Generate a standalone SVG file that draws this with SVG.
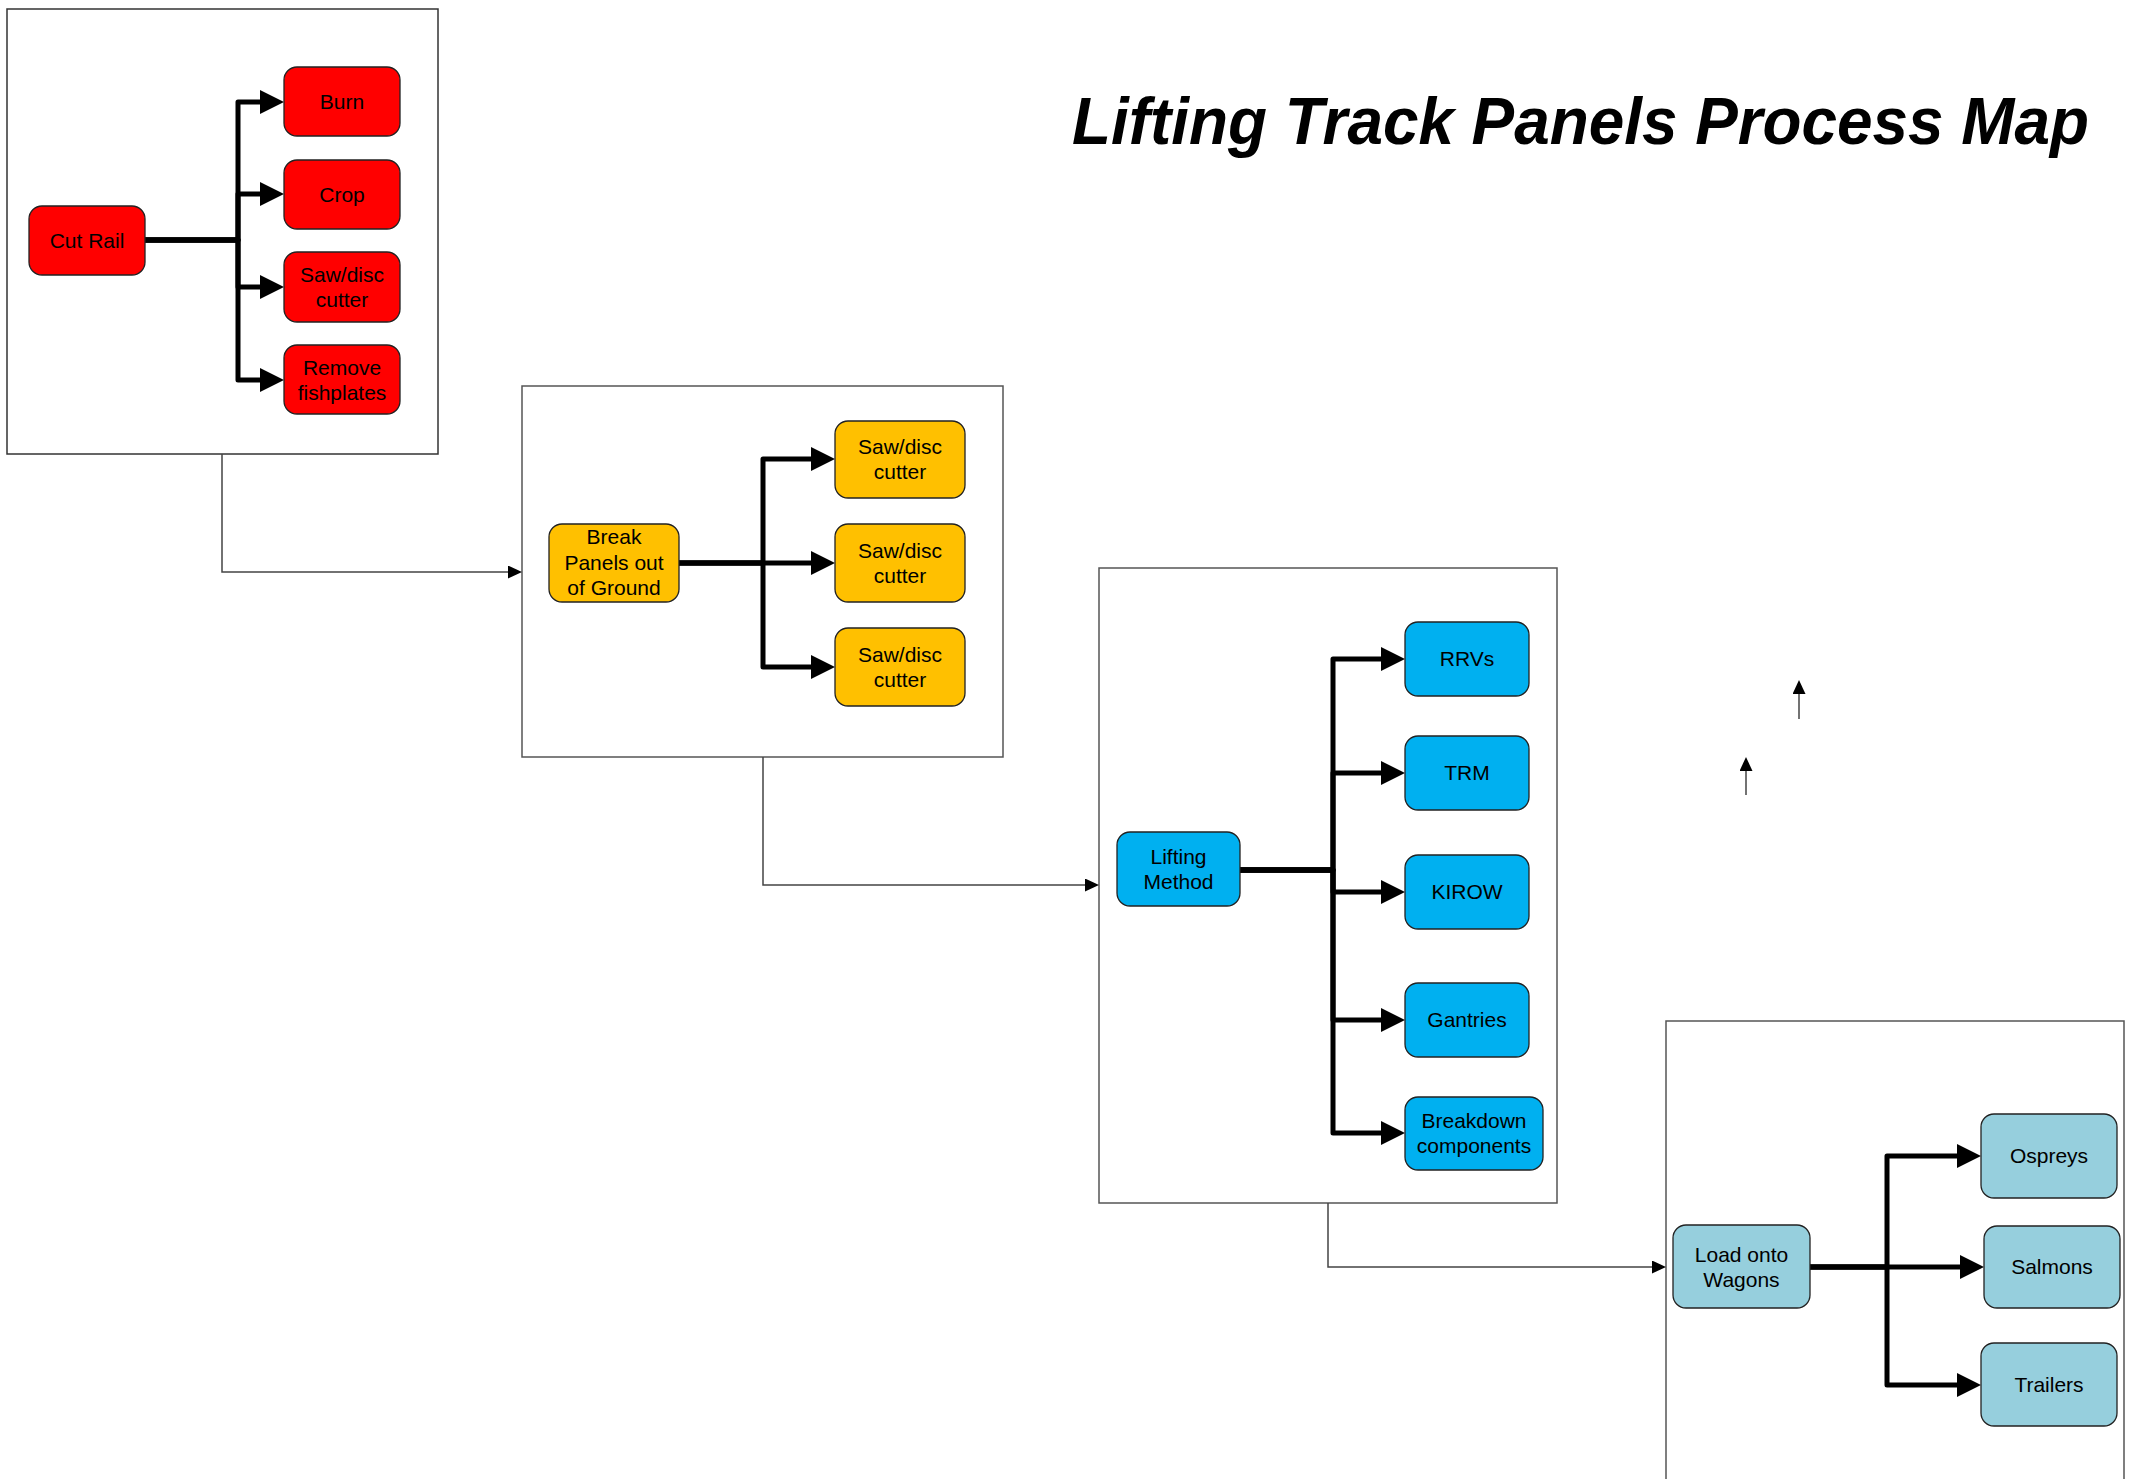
<svg xmlns="http://www.w3.org/2000/svg" width="2136" height="1479" viewBox="0 0 2136 1479">
  <style>
    .frame { fill: #ffffff; stroke: #555555; stroke-width: 1.5; }
    .box { stroke: #222222; stroke-width: 1.3; }
    .red { fill: #ff0000; }
    .amber { fill: #ffc000; }
    .blue { fill: #00b0f0; }
    .aqua { fill: #96cfdd; }
    .label { font-family: "Liberation Sans", Arial, sans-serif; font-size: 21px; fill: #000000; text-anchor: middle; }
    .branch { fill: none; stroke: #000000; stroke-width: 5; stroke-linejoin: round; stroke-linecap: round; }
    .link { fill: none; stroke: #444444; stroke-width: 1.5; }
    .title { font-family: "Liberation Sans", Arial, sans-serif; font-size: 66px; font-weight: bold; font-style: italic; fill: #000000; }
  </style>
  <defs>
    <marker id="bigHead" markerUnits="userSpaceOnUse" viewBox="0 0 24 24" markerWidth="24" markerHeight="24" refX="0" refY="12" orient="auto">
      <path d="M0,0 L24,12 L0,24 Z" fill="#000000"/>
    </marker>
    <marker id="smallHead" markerUnits="userSpaceOnUse" viewBox="0 0 14 13" markerWidth="14" markerHeight="13" refX="0" refY="6.5" orient="auto">
      <path d="M0,0 L14,6.5 L0,13 Z" fill="#000000"/>
    </marker>
  </defs>

  <rect width="2136" height="1479" fill="#ffffff"/>

  <!-- stage frames -->
  <rect class="frame" x="7" y="9" width="431" height="445" style="stroke:#333333"/>
  <rect class="frame" x="522" y="386" width="481" height="371"/>
  <rect class="frame" x="1099" y="568" width="458" height="635"/>
  <rect class="frame" x="1666" y="1021" width="458" height="480"/>

  <text class="title" x="1072" y="144" textLength="1017" lengthAdjust="spacingAndGlyphs">Lifting Track Panels Process Map</text>

  <g id="connectors">
    <!-- links between stages -->
    <path class="link" d="M222,454 V572 H508" marker-end="url(#smallHead)"/>
    <path class="link" d="M763,757 V885 H1085" marker-end="url(#smallHead)"/>
    <path class="link" d="M1328,1203 V1267 H1652" marker-end="url(#smallHead)"/>
    <path class="link" d="M1799,719 V694" marker-end="url(#smallHead)"/>
    <path class="link" d="M1746,795 V771" marker-end="url(#smallHead)"/>

    <!-- stage 1 branches -->
    <path class="branch" d="M145,240 H238 V102 H260" marker-end="url(#bigHead)"/>
    <path class="branch" d="M145,240 H238 V194 H260" marker-end="url(#bigHead)"/>
    <path class="branch" d="M145,240 H238 V287 H260" marker-end="url(#bigHead)"/>
    <path class="branch" d="M145,240 H238 V380 H260" marker-end="url(#bigHead)"/>

    <!-- stage 2 branches -->
    <path class="branch" d="M679,563 H763 V459 H811" marker-end="url(#bigHead)"/>
    <path class="branch" d="M679,563 H811" marker-end="url(#bigHead)"/>
    <path class="branch" d="M679,563 H763 V667 H811" marker-end="url(#bigHead)"/>

    <!-- stage 3 branches -->
    <path class="branch" d="M1240,870 H1333 V659 H1381" marker-end="url(#bigHead)"/>
    <path class="branch" d="M1240,870 H1333 V773 H1381" marker-end="url(#bigHead)"/>
    <path class="branch" d="M1240,870 H1333 V892 H1381" marker-end="url(#bigHead)"/>
    <path class="branch" d="M1240,870 H1333 V1020 H1381" marker-end="url(#bigHead)"/>
    <path class="branch" d="M1240,870 H1333 V1133 H1381" marker-end="url(#bigHead)"/>

    <!-- stage 4 branches -->
    <path class="branch" d="M1810,1267 H1887 V1156 H1957" marker-end="url(#bigHead)"/>
    <path class="branch" d="M1810,1267 H1960" marker-end="url(#bigHead)"/>
    <path class="branch" d="M1810,1267 H1887 V1385 H1957" marker-end="url(#bigHead)"/>
  </g>

  <!-- stage 1: cutting the rail -->
  <g id="cut-rail">
    <rect class="box red" x="29" y="206" width="116" height="69" rx="13"/>
    <text class="label" x="87" y="248">Cut Rail</text>
  </g>
  <g id="burn">
    <rect class="box red" x="284" y="67" width="116" height="69" rx="13"/>
    <text class="label" x="342" y="109">Burn</text>
  </g>
  <g id="crop">
    <rect class="box red" x="284" y="160" width="116" height="69" rx="13"/>
    <text class="label" x="342" y="202">Crop</text>
  </g>
  <g id="saw-disc-1">
    <rect class="box red" x="284" y="252" width="116" height="70" rx="13"/>
    <text class="label" x="342" y="282">Saw/disc</text>
    <text class="label" x="342" y="307">cutter</text>
  </g>
  <g id="remove-fishplates">
    <rect class="box red" x="284" y="345" width="116" height="69" rx="13"/>
    <text class="label" x="342" y="375">Remove</text>
    <text class="label" x="342" y="400">fishplates</text>
  </g>

  <!-- stage 2: breaking panels out -->
  <g id="break-panels">
    <rect class="box amber" x="549" y="524" width="130" height="78" rx="13"/>
    <text class="label" x="614" y="544">Break</text>
    <text class="label" x="614" y="570">Panels out</text>
    <text class="label" x="614" y="595">of Ground</text>
  </g>
  <g id="saw-disc-2">
    <rect class="box amber" x="835" y="421" width="130" height="77" rx="13"/>
    <text class="label" x="900" y="454">Saw/disc</text>
    <text class="label" x="900" y="479">cutter</text>
  </g>
  <g id="saw-disc-3">
    <rect class="box amber" x="835" y="524" width="130" height="78" rx="13"/>
    <text class="label" x="900" y="558">Saw/disc</text>
    <text class="label" x="900" y="583">cutter</text>
  </g>
  <g id="saw-disc-4">
    <rect class="box amber" x="835" y="628" width="130" height="78" rx="13"/>
    <text class="label" x="900" y="662">Saw/disc</text>
    <text class="label" x="900" y="687">cutter</text>
  </g>

  <!-- stage 3: lifting method -->
  <g id="lifting-method">
    <rect class="box blue" x="1117" y="832" width="123" height="74" rx="13"/>
    <text class="label" x="1178.5" y="864">Lifting</text>
    <text class="label" x="1178.5" y="889">Method</text>
  </g>
  <g id="rrvs">
    <rect class="box blue" x="1405" y="622" width="124" height="74" rx="13"/>
    <text class="label" x="1467" y="666">RRVs</text>
  </g>
  <g id="trm">
    <rect class="box blue" x="1405" y="736" width="124" height="74" rx="13"/>
    <text class="label" x="1467" y="780">TRM</text>
  </g>
  <g id="kirow">
    <rect class="box blue" x="1405" y="855" width="124" height="74" rx="13"/>
    <text class="label" x="1467" y="899">KIROW</text>
  </g>
  <g id="gantries">
    <rect class="box blue" x="1405" y="983" width="124" height="74" rx="13"/>
    <text class="label" x="1467" y="1027">Gantries</text>
  </g>
  <g id="breakdown-components">
    <rect class="box blue" x="1405" y="1097" width="138" height="73" rx="13"/>
    <text class="label" x="1474" y="1128">Breakdown</text>
    <text class="label" x="1474" y="1153">components</text>
  </g>

  <!-- stage 4: loading -->
  <g id="load-onto-wagons">
    <rect class="box aqua" x="1673" y="1225" width="137" height="83" rx="13"/>
    <text class="label" x="1741.5" y="1262">Load onto</text>
    <text class="label" x="1741.5" y="1287">Wagons</text>
  </g>
  <g id="ospreys">
    <rect class="box aqua" x="1981" y="1114" width="136" height="84" rx="13"/>
    <text class="label" x="2049" y="1163">Ospreys</text>
  </g>
  <g id="salmons">
    <rect class="box aqua" x="1984" y="1226" width="136" height="82" rx="13"/>
    <text class="label" x="2052" y="1274">Salmons</text>
  </g>
  <g id="trailers">
    <rect class="box aqua" x="1981" y="1343" width="136" height="83" rx="13"/>
    <text class="label" x="2049" y="1392">Trailers</text>
  </g>
</svg>
